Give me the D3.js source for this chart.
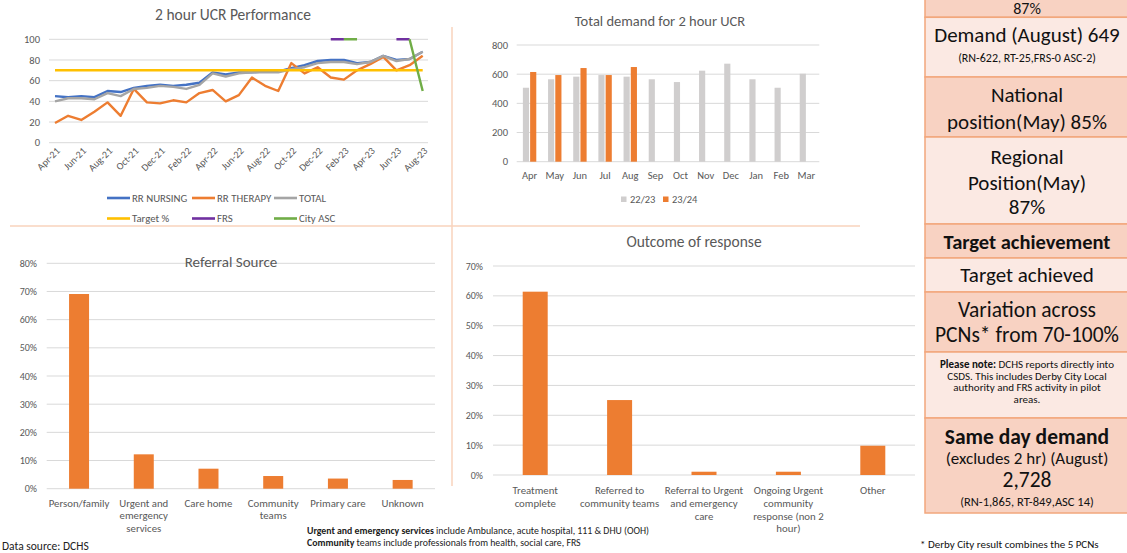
<!DOCTYPE html>
<html><head><meta charset="utf-8">
<script src="https://cdn.jsdelivr.net/npm/d3@7"></script>
<style>
html,body{margin:0;padding:0;background:#fff;}
svg{display:block;font-family:Carlito,Lato,"Open Sans",sans-serif;}
</style></head>
<body><svg id="c" width="1127" height="553"></svg>
<script>
// ---------- DATA ----------
const months = ["Apr-21","May-21","Jun-21","Jul-21","Aug-21","Sep-21","Oct-21","Nov-21","Dec-21","Jan-22","Feb-22","Mar-22","Apr-22","May-22","Jun-22","Jul-22","Aug-22","Sep-22","Oct-22","Nov-22","Dec-22","Jan-23","Feb-23","Mar-23","Apr-23","May-23","Jun-23","Jul-23","Aug-23"];
const rrNursing = [45,44,45,44,50,49,53,55,56,55,56,58,68,66,68,68,69,69,72,75,79,80,80,77,78,84,80,81,88];
const rrTherapy = [19,26,22,30,39,26,52,39,38,41,39,48,51,40,46,63,55,50,77,67,73,63,61,70,76,83,70,75,84];
const totalPerf = [40,43,43,42,48,45,52,53,55,54,52,56,67,64,67,68,68,68,71,73,77,78,78,76,78,84,79,81,88];
const targetPct = [70,70,70,70,70,70,70,70,70,70,70,70,70,70,70,70,70,70,70,70,70,70,70,70,70,70,70,70,70];
const frs = [null,null,null,null,null,null,null,null,null,null,null,null,null,null,null,null,null,null,null,null,null,100,100,null,null,null,100,100,null];
const cityAsc = [null,null,null,null,null,null,null,null,null,null,null,null,null,null,null,null,null,null,null,null,null,null,100,100,null,null,null,100,50];
const perfTickLabels = ["Apr-21","Jun-21","Aug-21","Oct-21","Dec-21","Feb-22","Apr-22","Jun-22","Aug-22","Oct-22","Dec-22","Feb-23","Apr-23","Jun-23","Aug-23"];
const perfSeriesNames = ["RR NURSING","RR THERAPY","TOTAL","Target %","FRS","City ASC"];

const demandMonths = ["Apr","May","Jun","Jul","Aug","Sep","Oct","Nov","Dec","Jan","Feb","Mar"];
const demand2223 = [507,565,583,594,583,565,546,624,672,565,507,603];
const demand2324 = [615,594,642,594,649];
const demandSeries = ["22/23","23/24"];

const referralCats = ["Person/family","Urgent and emergency services","Care home","Community teams","Primary care","Unknown"];
const referralLines = [["Person/family"],["Urgent and","emergency","services"],["Care home"],["Community","teams"],["Primary care"],["Unknown"]];
const referralVals = [69.1,12.2,7.1,4.5,3.6,3.1];

const outcomeCats = ["Treatment complete","Referred to community teams","Referral to Urgent and emergency care","Ongoing Urgent community response (non 2 hour)","Other"];
const outcomeLines = [["Treatment","complete"],["Referred to","community teams"],["Referral to Urgent","and emergency","care"],["Ongoing Urgent","community","response (non 2","hour)"],["Other"]];
const outcomeVals = [61.4,25.1,1.1,1.1,9.8];

// ---------- STYLE ----------
const TXT = "#595959", GRID = "#d9d9d9";
const ORANGE = "#ED7D31", BLUE = "#4472C4", GREY = "#A5A5A5", YELLOW = "#FFC000", PURPLE = "#7030A0", GREEN = "#70AD47";
const svg = d3.select("#c");
svg.append("rect").attr("width",1127).attr("height",553).attr("fill","#fff");

// quadrant separators
svg.append("line").attr("x1",10).attr("x2",860).attr("y1",226).attr("y2",226).attr("stroke","#f9d3bd").attr("stroke-width",1.5);
svg.append("line").attr("x1",452).attr("x2",452).attr("y1",27).attr("y2",486).attr("stroke","#f9d3bd").attr("stroke-width",1.5);

function yGrid(g, y, ticks, x0, x1, fmt, labelX, fs){
  ticks.forEach(t=>{
    g.append("line").attr("x1",x0).attr("x2",x1).attr("y1",y(t)).attr("y2",y(t)).attr("stroke",GRID).attr("stroke-width",1);
    g.append("text").attr("x",labelX).attr("y",y(t)).attr("dy","0.35em").attr("text-anchor","end")
      .attr("font-size",fs).attr("fill",TXT).text(fmt(t));
  });
}

// ---------- CHART 1: 2 hour UCR Performance ----------
{
  const g = svg.append("g");
  const x = d3.scalePoint().domain(months).range([55,422.7]);
  const y = d3.scaleLinear().domain([0,100]).range([142.7,39.3]);
  yGrid(g, y, d3.range(0,101,20), 49, 428, d=>d, 40, 10.5);
  g.append("text").attr("x",233).attr("y",20).attr("text-anchor","middle").attr("font-size",15.5).attr("fill",TXT).text("2 hour UCR Performance");
  perfTickLabels.forEach(m=>{
    const px = x(m)+3, py = 149;
    g.append("text").attr("x",px).attr("y",py).attr("text-anchor","end").attr("dy","0.35em")
      .attr("transform",`rotate(-45,${px},${py})`).attr("font-size",10).attr("fill",TXT).text(m);
  });
  const series = [[rrNursing,BLUE],[rrTherapy,ORANGE],[totalPerf,GREY],[targetPct,YELLOW],[frs,PURPLE],[cityAsc,GREEN]];
  const line = d3.line().defined(d=>d.v!==null).x(d=>x(d.m)).y(d=>y(d.v));
  series.forEach(([vals,col])=>{
    const data = months.map((m,i)=>({m, v: vals[i]}));
    g.append("path").datum(data).attr("d",line).attr("fill","none").attr("stroke",col).attr("stroke-width",2.4).attr("stroke-linejoin","round");
  });
  // legend
  const lx = [107,192,274], ly = [198,218.5];
  const cols = [BLUE,ORANGE,GREY,YELLOW,PURPLE,GREEN];
  perfSeriesNames.forEach((n,i)=>{
    const cx = lx[i%3], cy = ly[Math.floor(i/3)];
    g.append("line").attr("x1",cx).attr("x2",cx+23).attr("y1",cy).attr("y2",cy).attr("stroke",cols[i]).attr("stroke-width",2.6);
    g.append("text").attr("x",cx+25).attr("y",cy).attr("dy","0.35em").attr("font-size",10.8).attr("fill",TXT).text(n);
  });
}

// ---------- CHART 2: Total demand ----------
{
  const g = svg.append("g");
  const x = d3.scaleBand().domain(demandMonths).range([517,819]);
  const xs = d3.scaleBand().domain(demandSeries).range([0,13.4]).paddingInner(0.15);
  const y = d3.scaleLinear().domain([0,800]).range([161.7,45]);
  yGrid(g, y, d3.range(0,801,200), 516.7, 819.3, d=>d, 508, 10.5);
  g.append("text").attr("x",660).attr("y",26).attr("text-anchor","middle").attr("font-size",14.5).attr("fill",TXT).text("Total demand for 2 hour UCR");
  const off = (x.bandwidth()-13.4)/2;
  demandMonths.forEach((m,i)=>{
    g.append("text").attr("x",x(m)+x.bandwidth()/2).attr("y",175).attr("dy","0.35em").attr("text-anchor","middle").attr("font-size",10.5).attr("fill",TXT).text(m);
  });
  const sets = [[demand2223,"22/23","#D0CECE"],[demand2324,"23/24",ORANGE]];
  sets.forEach(([vals,s,col])=>{
    g.selectAll(null).data(vals).enter().append("rect")
      .attr("x",(d,i)=>x(demandMonths[i])+off+xs(s)).attr("width",xs.bandwidth())
      .attr("y",d=>y(d)).attr("height",d=>y(0)-y(d)).attr("fill",col);
  });
  const legX = [621,663];
  sets.forEach(([v,s,col],i)=>{
    g.append("rect").attr("x",legX[i]).attr("y",196.5).attr("width",5.5).attr("height",5.5).attr("fill",col);
    g.append("text").attr("x",legX[i]+9).attr("y",199.5).attr("dy","0.35em").attr("font-size",10.5).attr("fill",TXT).text(s);
  });
}

function wrapLabels(g, x, cats, lines, y0, lh, fs){
  cats.forEach((c,i)=>{
    const t = g.append("text").attr("text-anchor","middle").attr("font-size",fs).attr("fill",TXT);
    lines[i].forEach((l,j)=>{
      t.append("tspan").attr("x",x(c)+x.bandwidth()/2).attr("y",y0+j*lh).text(l);
    });
  });
}

// ---------- CHART 3: Referral Source ----------
{
  const g = svg.append("g");
  const x = d3.scaleBand().domain(referralCats).range([46.7,435]);
  const y = d3.scaleLinear().domain([0,80]).range([488.7,263.3]);
  yGrid(g, y, d3.range(0,81,10), 46.7, 435, d=>d+"%", 37, 10);
  const bw = 20;
  g.selectAll(null).data(referralVals).enter().append("rect")
    .attr("x",(d,i)=>x(referralCats[i])+x.bandwidth()/2-bw/2).attr("width",bw)
    .attr("y",d=>y(d)).attr("height",d=>y(0)-y(d)).attr("fill",ORANGE);
  const tt = g.append("text").attr("x",231).attr("y",262).attr("dy","0.35em").attr("text-anchor","middle").attr("font-size",15).attr("fill",TXT).text("Referral Source");
  const bb = tt.node().getBBox();
  g.insert("rect","text").attr("x",bb.x-4).attr("y",bb.y).attr("width",bb.width+8).attr("height",bb.height).attr("fill","#fff");
  wrapLabels(g, x, referralCats, referralLines, 506.5, 12.8, 10.8);
  g.append("text").attr("x",2).attr("y",550).attr("font-size",11.5).attr("fill","#222").text("Data source: DCHS");
}

// ---------- CHART 4: Outcome of response ----------
{
  const g = svg.append("g");
  const x = d3.scaleBand().domain(outcomeCats).range([493,915]);
  const y = d3.scaleLinear().domain([0,70]).range([475,266]);
  yGrid(g, y, d3.range(0,71,10), 493, 915, d=>d+"%", 483, 10);
  const bw = 25;
  g.selectAll(null).data(outcomeVals).enter().append("rect")
    .attr("x",(d,i)=>x(outcomeCats[i])+x.bandwidth()/2-bw/2).attr("width",bw)
    .attr("y",d=>y(d)).attr("height",d=>y(0)-y(d)).attr("fill",ORANGE);
  g.append("text").attr("x",694).attr("y",242).attr("dy","0.35em").attr("text-anchor","middle").attr("font-size",15.5).attr("fill",TXT).text("Outcome of response");
  wrapLabels(g, x, outcomeCats, outcomeLines, 494, 12.8, 10.8);
}

// footnote
{
  const t1 = svg.append("text").attr("x",307).attr("y",534).attr("font-size",9.8).attr("fill","#222");
  t1.append("tspan").attr("font-weight","bold").text("Urgent and emergency services ");
  t1.append("tspan").text("include Ambulance, acute hospital, 111 & DHU (OOH)");
  const t2 = svg.append("text").attr("x",307).attr("y",546).attr("font-size",9.8).attr("fill","#222");
  t2.append("tspan").attr("font-weight","bold").text("Community ");
  t2.append("tspan").text("teams include professionals from health, social care, FRS");
}

// ---------- RIGHT PANEL ----------
{
  const g = svg.append("g");
  const DARK = "#f8d2c2", LIGHT = "#fbe9e3", BORDER = "#f2a77c";
  const rows = [[-10,17.3],[17.3,77],[77,137],[137,224],[224,258],[258,292],[292,352],[352,418],[418,513]];
  rows.forEach((r,i)=>{
    g.append("rect").attr("x",925).attr("y",r[0]).attr("width",210).attr("height",r[1]-r[0])
      .attr("fill", i%2===0?DARK:LIGHT).attr("stroke",BORDER).attr("stroke-width",1.5);
  });
  const cx = 1027;
  const T = (y,s,fs,bold)=>g.append("text").attr("x",cx).attr("y",y).attr("text-anchor","middle").attr("font-size",fs)
      .attr("font-weight",bold?"bold":"normal").attr("fill","#111").text(s);
  T(14,"87%",16);
  T(42,"Demand (August) 649",21);
  T(61.5,"(RN-622, RT-25,FRS-0 ASC-2)",12);
  T(102,"National",21);
  T(128.5,"position(May) 85%",21);
  T(163.5,"Regional",21);
  T(189.5,"Position(May)",21);
  T(213.5,"87%",21);
  T(248.5,"Target achievement",20.5,true);
  T(282,"Target achieved",21);
  T(317,"Variation across",21.5);
  T(342,"PCNs* from 70-100%",21.5);
  const n1 = g.append("text").attr("x",cx).attr("y",367.7).attr("text-anchor","middle").attr("font-size",11).attr("fill","#111");
  n1.append("tspan").attr("font-weight","bold").text("Please note: ");
  n1.append("tspan").text("DCHS reports directly into");
  T(379.5,"CSDS. This includes Derby City Local",11);
  T(391.3,"authority and FRS activity in pilot",11);
  T(403,"areas.",11);
  T(443.5,"Same day demand",21.5,true);
  T(463.5,"(excludes 2 hr) (August)",17);
  T(487,"2,728",21.5);
  T(506,"(RN-1,865, RT-849,ASC 14)",12.5);
  g.append("text").attr("x",920).attr("y",548.3).attr("font-size",11).attr("fill","#111").text("* Derby City result combines the 5 PCNs");
}
</script></body></html>
